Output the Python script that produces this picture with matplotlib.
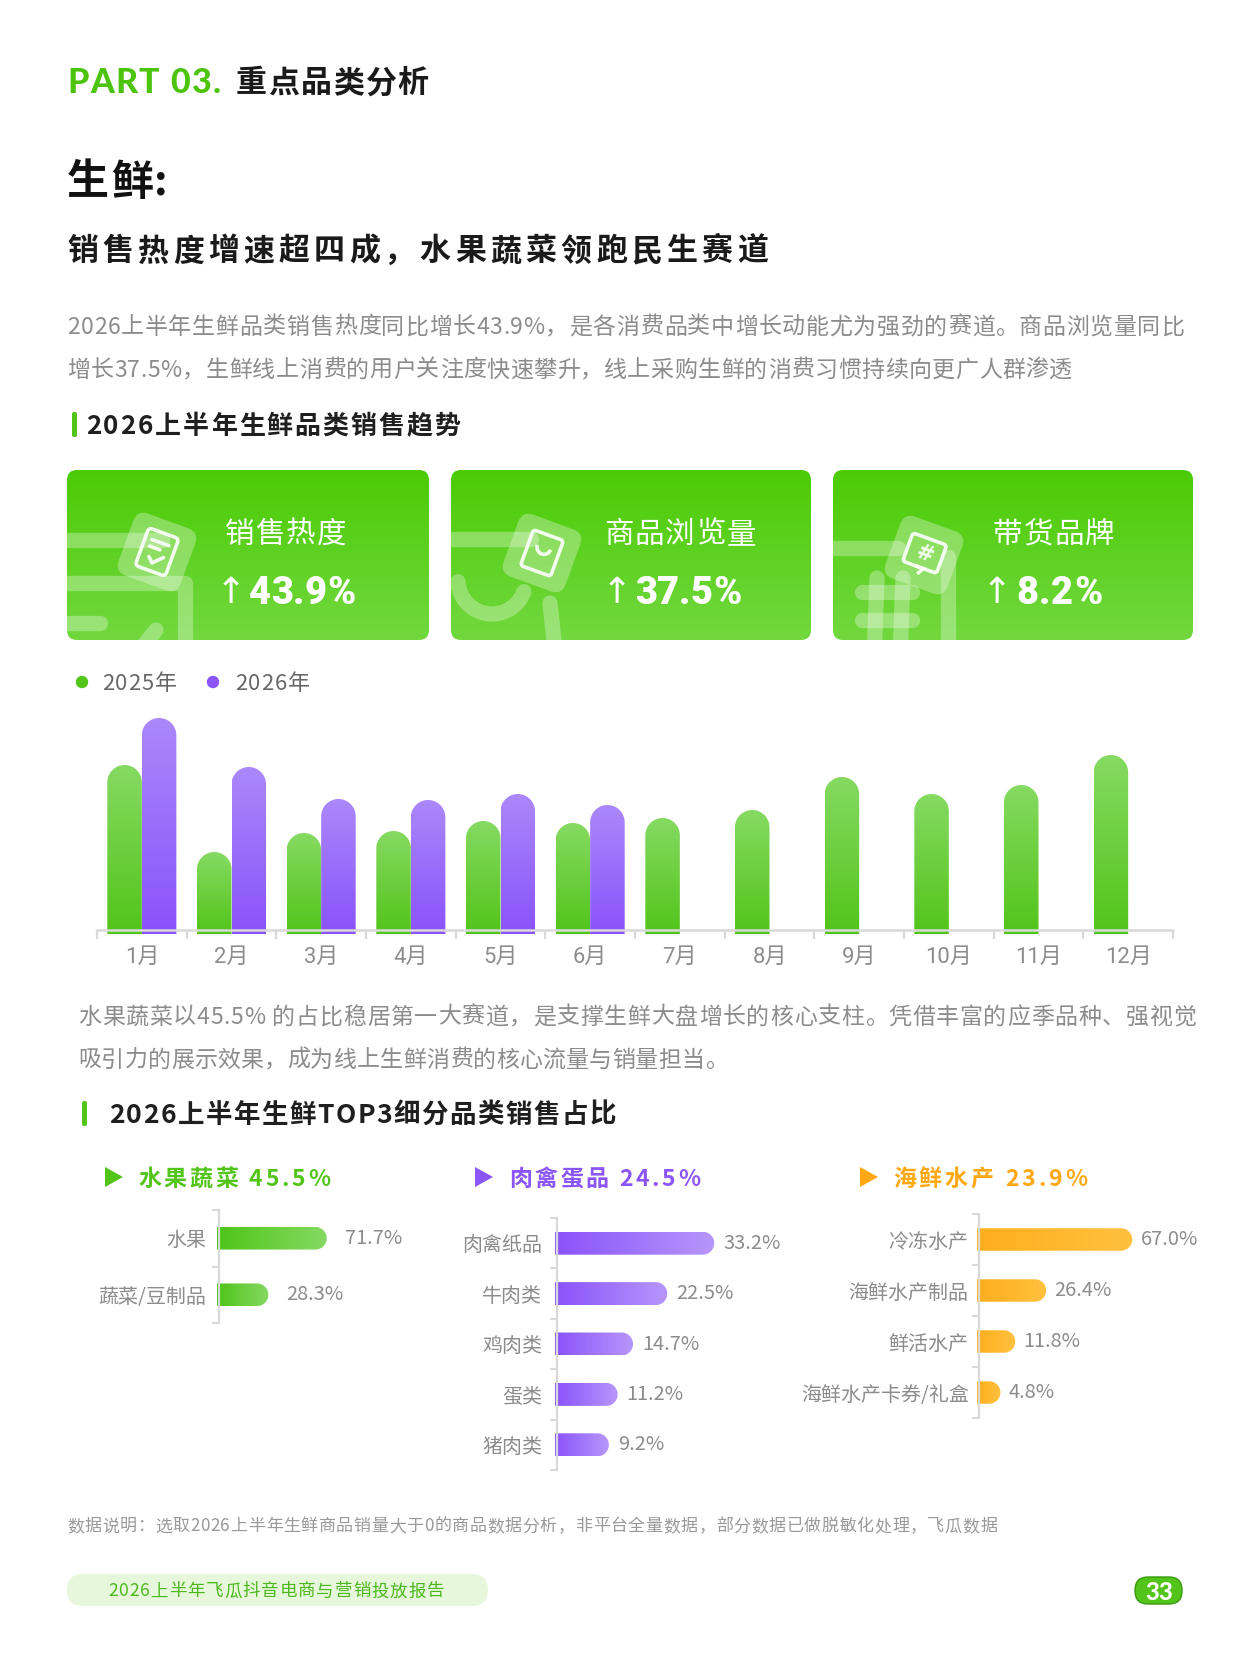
import numpy as np
import matplotlib
matplotlib.use("Agg")
import matplotlib.pyplot as plt
from matplotlib.patches import FancyBboxPatch, Polygon, Circle, Arc
from matplotlib.transforms import Affine2D, offset_copy
from matplotlib.colors import LinearSegmentedColormap
from matplotlib.font_manager import FontProperties, findfont, get_font

CJK = 'Noto Sans CJK SC'
plt.rcParams['font.family'] = [CJK, 'DejaVu Sans']

W, H = 1249, 1666

# ---- 数据 ----
months = [f'{i}月' for i in range(1, 13)]
heat_2025 = [165, 78, 97, 99, 109, 107, 112, 120, 153, 136, 145, 175]
heat_2026 = [212, 163, 131, 130, 136, 125]

card_titles = ['销售热度', '商品浏览量', '带货品牌']
card_growth = ['43.9%', '37.5%', '8.2%']

top3_names = ['水果蔬菜', '肉禽蛋品', '海鲜水产']
top3_share = ['45.5%', '24.5%', '23.9%']
fruit_cats = ['水果', '蔬菜/豆制品']
fruit_vals = [71.7, 28.3]
meat_cats = ['肉禽纸品', '牛肉类', '鸡肉类', '蛋类', '猪肉类']
meat_vals = [33.2, 22.5, 14.7, 11.2, 9.2]
sea_cats = ['冷冻水产', '海鲜水产制品', '鲜活水产', '海鲜水产卡券/礼盒']
sea_vals = [67.0, 26.4, 11.8, 4.8]

para1 = ['2026上半年生鲜品类销售热度同比增长43.9%，是各消费品类中增长动能尤为强劲的赛道。商品浏览量同比',
         '增长37.5%，生鲜线上消费的用户关注度快速攀升，线上采购生鲜的消费习惯持续向更广人群渗透']
para2 = ['水果蔬菜以45.5% 的占比稳居第一大赛道，是支撑生鲜大盘增长的核心支柱。凭借丰富的应季品种、强视觉',
         '吸引力的展示效果，成为线上生鲜消费的核心流量与销量担当。']
note = '数据说明：选取2026上半年生鲜商品销量大于0的商品数据分析，非平台全量数据，部分数据已做脱敏化处理，飞瓜数据'

GREEN = '#52C41A'
PURPLE = '#8B55F8'
ORANGE = '#FFA813'
GRAY = '#8C8C8C'

fig = plt.figure(figsize=(W / 100, H / 100), dpi=100)
bg = fig.add_axes([0, 0, 1, 1])
bg.set_xlim(0, W)
bg.set_ylim(H, 0)
bg.axis('off')


def advances(s, size, weight, family):
    f = get_font(findfont(FontProperties(family=family, weight=weight)))
    f.set_size(size * 0.72, 100)
    out = []
    for ch in s:
        try:
            out.append(f.load_char(ord(ch)).linearHoriAdvance / 65536)
        except Exception:
            out.append(size * 0.6)
    return out


def fit_text(x0, y, s, size, color, x1=None, spacing=0.0, weight='normal', family=CJK, zorder=6):
    # 逐字排版, 给定起止位置时自动算字距
    adv = advances(s, size, weight, family)
    if x1 is not None and len(s) > 1:
        spacing = (x1 - x0 - sum(adv)) / (len(s) - 1)
    base = y + 0.37 * size
    pen = x0
    for ch, a in zip(s, adv):
        if ch != ' ':
            bg.text(pen, base, ch, fontsize=size * 0.72, color=color, weight=weight,
                    family=[family, CJK, 'DejaVu Sans'], ha='left', va='baseline', zorder=zorder)
        pen += a + spacing
    return spacing


def px_scale(ax):
    bb = ax.get_position()
    x0, x1 = ax.get_xlim()
    y0, y1 = ax.get_ylim()
    return bb.width * W / abs(x1 - x0), bb.height * H / abs(y1 - y0)


def cmap2(c0, c1):
    return LinearSegmentedColormap.from_list('g', [c0, c1])


# ---- 标题区 ----
fit_text(67, 80, 'PART 03.', 34, '#4CC40E', x1=221, weight='black', family='Lato')
fit_text(236, 81, '重点品类分析', 31, '#1A1A1A', x1=428, weight='bold')
fit_text(67, 179, '生鲜:', 42, '#111111', x1=168, weight='black')
fit_text(67, 249, '销售热度增速超四成，水果蔬菜领跑民生赛道', 31, '#1A1A1A', x1=768, weight='bold')
fit_text(67, 325, para1[0], 23, GRAY, x1=1184)
fit_text(67, 368, para1[1], 23, GRAY, x1=1072)

bg.add_patch(FancyBboxPatch((72, 412), 5, 25, boxstyle='round,pad=0,rounding_size=2', fc=GREEN, ec='none'))
fit_text(86, 424, '2026上半年生鲜品类销售趋势', 26, '#1F1F1F', x1=460, weight='bold')

# ---- 三张指标卡 ----
card_x = [(67, 429), (451, 811), (833, 1193)]
card_top, card_bot = 470, 640
card_cmap = cmap2('#4BCB05', '#72D83F')
icon_c = [(157, 552), (542, 553), (924, 555)]
title_x = [(225, 346), (604, 756), (993, 1114)]
arrow_cx = [231, 617, 997]
value_x = [(249, 355), (635, 741), (1016, 1102)]

for i, (x0, x1) in enumerate(card_x):
    box = FancyBboxPatch((x0, card_top), x1 - x0, card_bot - card_top,
                         boxstyle='round,pad=0,rounding_size=10', fc='none', ec='none')
    bg.add_patch(box)
    im = bg.imshow(np.linspace(0, 1, 256)[:, None], cmap=card_cmap, aspect='auto',
                   extent=[x0, x1, card_bot, card_top], origin='upper', zorder=1)
    im.set_clip_path(box)

    deco = dict(color='white', alpha=0.3, lw=11, solid_capstyle='round', zorder=2)
    lines = []
    if i == 0:
        lines.append(bg.plot([x0 - 10, x0 + 95], [540, 540], **deco)[0])
        lines.append(bg.plot([x0 - 10, 185, 185], [583, 583, 660], **deco)[0])
        lines.append(bg.plot([x0 - 10, 100], [623, 623], **deco)[0])
        lines.append(bg.plot([140, 156], [650, 630], **deco)[0])
    elif i == 1:
        lines.append(bg.plot([x0 - 10, x0 + 80], [539, 539], **deco)[0])
        t = np.linspace(0.05, np.pi - 0.35, 40)
        lines.append(bg.plot(492 - 34 * np.cos(t), 580 + 34 * np.sin(t), **deco)[0])
        lines.append(bg.plot([550, 556], [603, 660], **deco)[0])
    else:
        lines.append(bg.plot([x0 - 10, x0 + 65], [548, 548], **deco)[0])
        lines.append(bg.plot([877, 874], [578, 660], **deco)[0])
        lines.append(bg.plot([903, 900], [578, 660], **deco)[0])
        lines.append(bg.plot([862, 912], [592, 592], **deco)[0])
        lines.append(bg.plot([862, 912], [620, 620], **deco)[0])
        lines.append(bg.plot([948, 948], [557, 660], **deco)[0])
    for ln in lines:
        ln.set_clip_path(box)

    cx, cy = icon_c[i]
    tr = Affine2D().rotate_deg_around(cx, cy, 20) + bg.transData
    sq = FancyBboxPatch((cx - 33, cy - 33), 66, 66, boxstyle='round,pad=0,rounding_size=12',
                        fc='white', alpha=0.3, ec='none', zorder=3)
    sq.set_transform(tr)
    bg.add_patch(sq)
    gl = dict(fc='none', ec='white', lw=2.6, alpha=0.9, zorder=4)
    if i == 0:
        p = FancyBboxPatch((cx - 16, cy - 20), 32, 40, boxstyle='round,pad=0,rounding_size=4', **gl)
        p.set_transform(tr)
        bg.add_patch(p)
        for xs, ys in [([cx - 9, cx + 9], [cy - 10, cy - 10]), ([cx - 9, cx + 2], [cy - 3, cy - 3]),
                       ([cx - 6, cx - 1, cx + 8], [cy + 7, cy + 12, cy + 3])]:
            bg.plot(xs, ys, color='white', lw=2.6, alpha=0.9, transform=tr, zorder=4,
                    solid_capstyle='round')
    elif i == 1:
        p = FancyBboxPatch((cx - 16, cy - 19), 32, 38, boxstyle='round,pad=0,rounding_size=3', **gl)
        p.set_transform(tr)
        bg.add_patch(p)
        a = Arc((cx, cy - 6), 14, 14, theta1=0, theta2=180, color='white', lw=2.6, alpha=0.9, zorder=4)
        a.set_transform(tr)
        bg.add_patch(a)
    else:
        p = FancyBboxPatch((cx - 18, cy - 17), 36, 30, boxstyle='round,pad=0,rounding_size=3', **gl)
        p.set_transform(tr)
        bg.add_patch(p)
        tail = Polygon([(cx - 4, cy + 13), (cx + 4, cy + 13), (cx, cy + 20)], closed=False, **gl)
        tail.set_transform(tr)
        bg.add_patch(tail)
        bg.text(cx + 1, cy - 1, '#', fontsize=15, weight='bold', color='white', alpha=0.9,
                ha='center', va='center', rotation=-20, family='DejaVu Sans', zorder=4)

    fit_text(title_x[i][0], 532, card_titles[i], 29.5, 'white', x1=title_x[i][1], weight='medium')
    bg.text(arrow_cx[i], 590 + 0.37 * 36, '↑', fontsize=36 * 0.72, color='white',
            family='DejaVu Sans', ha='center', va='baseline', zorder=6)
    fit_text(value_x[i][0], 590, card_growth[i], 38, 'white', x1=value_x[i][1], weight='black',
             family='Roboto')

# ---- 图例 ----
bg.add_patch(Circle((82, 682), 5.5, color=GREEN))
bg.add_patch(Circle((213, 682), 5.5, color=PURPLE))
fit_text(102, 682, '2025年', 22, '#666666', x1=177)
fit_text(235, 682, '2026年', 22, '#666666', x1=310)

# ---- 月度柱状图 ----
ax = fig.add_axes([97 / W, 1 - 934 / H, 1076 / W, 233 / H])
ax.set_facecolor('none')
xlim, ylim = (-0.5, 11.5), (-4, 229)
ax.set_xlim(*xlim)
ax.set_ylim(*ylim)
x = np.arange(len(months))
bw = 0.385
b25 = ax.bar(x - bw / 2, heat_2025, bw)
b26 = ax.bar(x[:len(heat_2026)] + bw / 2, heat_2026, bw)
sx, sy = px_scale(ax)
grad_v = np.linspace(0, 1, 256)[:, None]
for rects, cm in [(b25, cmap2('#52C41A', '#86DA62')), (b26, cmap2('#8A52FA', '#AB88FB'))]:
    for r in rects:
        r.set_visible(False)
        xl, w, h = r.get_x(), r.get_width(), r.get_height()
        rx = w / 2
        ry = rx * sx / sy
        t = np.linspace(0, np.pi, 40)
        pts = [(xl + w, ylim[0])] + list(zip(xl + rx + rx * np.cos(t), h - ry + ry * np.sin(t))) + [(xl, ylim[0])]
        poly = Polygon(pts, closed=True, fc='none', ec='none')
        ax.add_patch(poly)
        im = ax.imshow(grad_v, cmap=cm, extent=[xl, xl + w, ylim[0], h], origin='lower',
                       aspect='auto', zorder=2)
        im.set_clip_path(poly)
ax.set_xlim(*xlim)
ax.set_ylim(*ylim)
for s in ['left', 'right', 'top']:
    ax.spines[s].set_visible(False)
ax.spines['bottom'].set_position(('data', 0))
ax.spines['bottom'].set_color('#D9D9D9')
ax.spines['bottom'].set_linewidth(1.8)
ax.spines['bottom'].set_zorder(3)
ax.set_yticks([])
ax.set_xticks(x, labels=months)
ax.set_xticks(np.arange(len(months) + 1) - 0.5, minor=True)
ax.tick_params(axis='x', which='major', length=0, pad=12.5, labelsize=22 * 0.72, labelcolor=GRAY)
ax.tick_params(axis='x', which='minor', length=6.5, width=1.6, color='#D9D9D9', direction='out')
for lab in ax.get_xticklabels():
    lab.set_family(['Roboto', CJK])

# ---- 第二段 ----
fit_text(78, 1015, para2[0], 23, GRAY, x1=1196)
fit_text(78, 1058, para2[1], 23, GRAY, x1=728)
bg.add_patch(FancyBboxPatch((82, 1101), 5, 25, boxstyle='round,pad=0,rounding_size=2', fc=GREEN, ec='none'))
fit_text(109, 1113, '2026上半年生鲜TOP3细分品类销售占比', 26.5, '#1F1F1F', x1=616, weight='bold')

# ---- TOP3 小标题 ----
head_tri = [105, 475, 860]
head_txt = [(138, 330), (509, 700), (893, 1087)]
head_col = [GREEN, PURPLE, ORANGE]
for i in range(3):
    tx = head_tri[i]
    bg.add_patch(Polygon([(tx, 1167), (tx, 1187), (tx + 18, 1177)], closed=True, fc=head_col[i], ec='none'))
    fit_text(head_txt[i][0], 1177, f'{top3_names[i]} {top3_share[i]}', 23, head_col[i],
             x1=head_txt[i][1], weight='bold')


def hpanel(cats, vals, spine_px, top_px, bot_px, width_px, k, bar_h, c0, c1, gap, pad):
    left_px = spine_px - 2
    axh = fig.add_axes([left_px / W, 1 - bot_px / H, width_px / W, (bot_px - top_px) / H])
    axh.set_facecolor('none')
    n = len(cats)
    xl = (-2 / k, (width_px - 2) / k)
    yl = (n - 0.5, -0.5)
    axh.set_xlim(*xl)
    axh.set_ylim(*yl)
    rects = axh.barh(np.arange(n), vals, bar_h)
    px, py = px_scale(axh)
    cm = cmap2(c0, c1)
    for r, v in zip(rects, vals):
        r.set_visible(False)
        hh = r.get_height() / 2
        yc = r.get_y() + hh
        xe = r.get_x() + r.get_width()
        rx = hh * py / px
        t = np.linspace(-np.pi / 2, np.pi / 2, 30)
        pts = [(xl[0], yc - hh)] + list(zip(xe + rx * np.cos(t), yc + hh * np.sin(t))) + [(xl[0], yc + hh)]
        poly = Polygon(pts, closed=True, fc='none', ec='none')
        axh.add_patch(poly)
        im = axh.imshow(np.linspace(0, 1, 256)[None, :], cmap=cm, aspect='auto',
                        extent=[xl[0], xe + rx, yc + hh, yc - hh], zorder=2)
        im.set_clip_path(poly)
        axh.text(xe, yc, f'{v:.1f}%', fontsize=20 * 0.72, color=GRAY, ha='left', va='center',
                 transform=offset_copy(axh.transData, fig=fig, x=rx * px + gap, y=0, units='dots'))
    axh.set_xlim(*xl)
    axh.set_ylim(*yl)
    for s in ['right', 'top', 'bottom']:
        axh.spines[s].set_visible(False)
    axh.spines['left'].set_position(('data', 0))
    axh.spines['left'].set_color('#D9D9D9')
    axh.spines['left'].set_linewidth(1.6)
    axh.spines['left'].set_zorder(3)
    axh.set_xticks([])
    axh.set_yticks(np.arange(n), labels=cats)
    axh.set_yticks(np.arange(n + 1) - 0.5, minor=True)
    axh.tick_params(axis='y', which='major', length=0, pad=pad, labelsize=20 * 0.72, labelcolor=GRAY)
    axh.tick_params(axis='y', which='minor', length=5, width=1.5, color='#D9D9D9', direction='out')


hpanel(fruit_cats, fruit_vals, 219, 1210, 1323, 300, 1.345, 0.40, '#4EC418', '#86DA62', 18, 9.5)
hpanel(meat_cats, meat_vals, 557, 1218, 1470, 300, 4.39, 0.456, '#8A52FA', '#B797FC', 9, 10.5)
hpanel(sea_cats, sea_vals, 979, 1214, 1418, 240, 2.12, 0.44, '#FFAE1C', '#FFC13F', 8.5, 7.5)

# ---- 脚注 / 页脚 ----
fit_text(67, 1525, note, 17, '#999999', x1=997)
bg.add_patch(FancyBboxPatch((67, 1574), 421, 32, boxstyle='round,pad=0,rounding_size=16',
                            fc='#E6F7DC', ec='none'))
fit_text(108, 1590, '2026上半年飞瓜抖音电商与营销投放报告', 17.5, '#4DB81C', x1=444, weight='medium')
bg.add_patch(FancyBboxPatch((1135, 1577), 47, 27, boxstyle='round,pad=0,rounding_size=13',
                            fc=GREEN, ec='#3A9A10', lw=1))
fit_text(1145, 1591, '33', 24, 'white', x1=1172, weight='black', family='Lato')

fig.savefig('out.png', dpi=100, facecolor='white')
